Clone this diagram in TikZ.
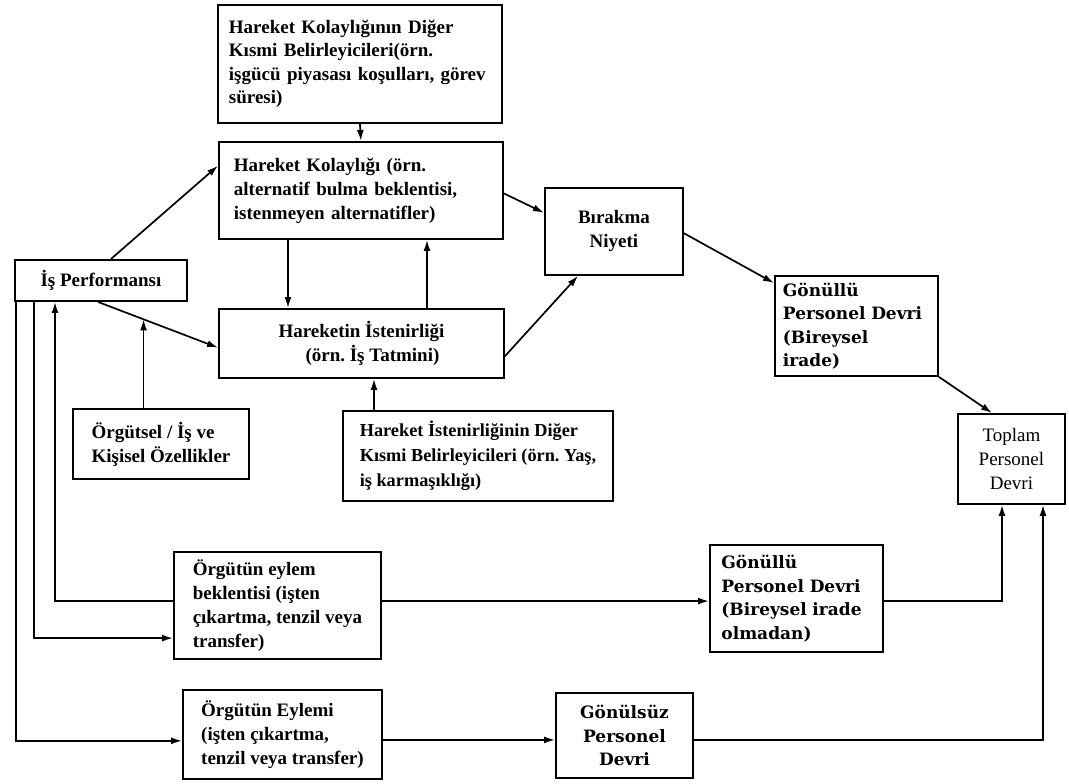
\documentclass[tikz,border=0pt]{standalone}
\usepackage{fontspec}
\setmainfont{Liberation Serif}
\newfontfamily\wideserif{DejaVu Serif}
\usetikzlibrary{arrows.meta,calc}
\AtBeginDocument{\frenchspacing}

\tikzset{
  box/.style={draw, line width=1.9pt, rectangle, anchor=north west,
              inner sep=0pt, align=left},
  mtxt/.style={font=\fontsize{19}{24}\selectfont\bfseries},
  ttxt/.style={font=\fontsize{19}{23.5}\selectfont\bfseries},
  htxt/.style={font=\fontsize{18.3}{25}\selectfont\bfseries},
  wtxt/.style={font=\wideserif\fontsize{17}{23.5}\selectfont\bfseries},
  rtxt/.style={font=\fontsize{19}{24}\selectfont},
  arr/.style={line width=1.7pt, -{Latex[length=11pt,width=7pt]}},
}

\begin{document}
\begin{tikzpicture}[x=1pt,y=-1pt]
\useasboundingbox[fill=white] (0,0) rectangle (1069,784);

% boxes
\node[box,ttxt,minimum width=284pt,minimum height=118pt,text width=262pt] (tb) at (217,4)
  {Hareket Kolaylığının Diğer\\Kısmi Belirleyicileri(örn.\\işgücü piyasası koşulları, görev\\süresi)};
\node[box,mtxt,minimum width=284pt,minimum height=97pt,text width=254pt] (hk) at (218,141)
  {Hareket Kolaylığı (örn.\\alternatif bulma beklentisi,\\istenmeyen alternatifler)};
\node[box,mtxt,minimum width=138pt,minimum height=87pt,align=center] (bn) at (544,187)
  {Bırakma\\Niyeti};
\node[box,mtxt,minimum width=172pt,minimum height=41pt,align=center] (ip) at (14,259)
  {İş Performansı};
\node[box,mtxt,minimum width=285pt,minimum height=69pt,align=center] (hi) at (218,308)
  {Hareketin İstenirliği\\\hspace*{22pt}(örn. İş Tatmini)};
\node[box,mtxt,minimum width=176pt,minimum height=70pt] (og) at (72,408)
  {Örgütsel / İş ve\\Kişisel Özellikler};
\node[box,htxt,minimum width=270pt,minimum height=90pt] (hd) at (342,410)
  {Hareket İstenirliğinin Diğer\\Kısmi Belirleyicileri (örn. Yaş,\\iş karmaşıklığı)};
\node[box,wtxt,minimum width=163pt,minimum height=100pt,text width=147pt] (gb) at (774,275)
  {Gönüllü\\Personel Devri\\(Bireysel\\irade)};
\node[box,rtxt,minimum width=107pt,minimum height=90pt,align=center] (tp) at (957,413)
  {Toplam\\Personel\\Devri};
\node[box,mtxt,minimum width=207pt,minimum height=107pt] (oeb) at (173,551)
  {Örgütün eylem\\beklentisi (işten\\çıkartma, tenzil veya\\transfer)};
\node[box,wtxt,minimum width=173pt,minimum height=107pt,text width=150pt] (gbo) at (709,544)
  {Gönüllü\\Personel Devri\\(Bireysel irade\\olmadan)};
\node[box,mtxt,minimum width=199pt,minimum height=89pt] (oe) at (182,689)
  {Örgütün Eylemi\\(işten çıkartma,\\tenzil veya transfer)};
\node[box,wtxt,minimum width=137pt,minimum height=85pt,align=center] (gz) at (555,692)
  {Gönülsüz\\Personel\\Devri};

% upper part of the model
\draw[arr] (tb.south) -- (hk.north);
\draw[arr] ([xshift=10pt]ip.north) -- ($(hk.north west)!0.25!(hk.south west)$);
\coordinate (p1) at ([xshift=-3pt]ip.south);
\coordinate (p2) at ($(hi.north west)!0.56!(hi.south west)$);
\draw[arr] (p1) -- (p2);
\coordinate (m) at ($(p1)!0.38!(p2)$);
\draw[arr] (og.north -| m) -- (m);
\draw[arr] ([xshift=70pt]hk.south west) -- ([xshift=70pt]hi.north west);
\draw[arr] ([xshift=209pt]hi.north west) -- ([xshift=209pt]hk.south west);
\draw[arr] ($(hk.north east)!0.53!(hk.south east)$) -- ($(bn.north west)!0.29!(bn.south west)$);
\draw[arr] ($(hi.north east)!0.68!(hi.south east)$) -- ([xshift=34pt]bn.south west);
\draw[arr] ($(bn.north east)!0.52!(bn.south east)$) -- ([yshift=-8pt]gb.north west);
\draw[arr] (gb.south east) -- ([xshift=35pt]tp.north west);
\draw[arr] ([xshift=32pt]hd.north west) -- ([xshift=32pt]hd.north west |- hi.south);

% feedback and organisational action paths
\draw[arr] ($(oeb.north west)!0.46!(oeb.south west)$) -| ([xshift=41pt]ip.south west);
\draw[arr] ([xshift=20pt]ip.south west) |- ($(oeb.north west)!0.80!(oeb.south west)$);
\draw[arr] ([xshift=2pt]ip.south west) |- ($(oe.north west)!0.57!(oe.south west)$);
\coordinate (a) at ($(oeb.north east)!0.46!(oeb.south east)$);
\draw[arr] (a) -- (a -| gbo.west);
\draw[arr] (gbo.east |- a) -| ([xshift=45pt]tp.south west);
\coordinate (b) at ($(oe.north east)!0.56!(oe.south east)$);
\draw[arr] (b) -- (b -| gz.west);
\draw[arr] (gz.east |- b) -| ([xshift=86pt]tp.south west);
\end{tikzpicture}
\end{document}
